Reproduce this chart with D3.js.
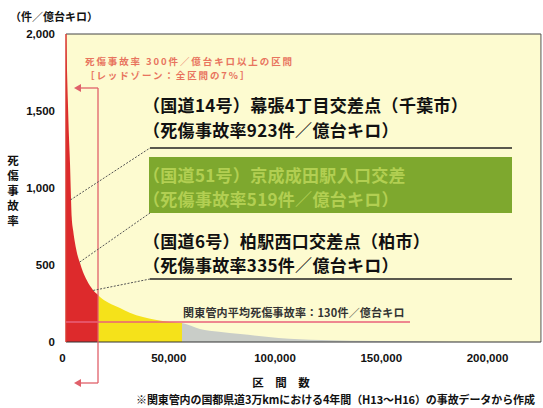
<!DOCTYPE html>
<html><head><meta charset="utf-8">
<script src="https://cdn.jsdelivr.net/npm/d3@7"></script>
<style>
html,body{margin:0;padding:0;background:#fff;}
svg text{font-family:"Noto Sans CJK JP","Noto Sans",sans-serif;font-weight:700;}
</style></head><body>
<svg id="chart" width="543" height="408"></svg>
<script>
// ---- data ----
const sections = [0, 400, 900, 1400, 1880, 2300, 2680, 3400, 4240, 5300, 6590, 8000, 9740, 11200, 12700, 15060, 16000, 20000, 25400, 30000, 36200, 42000, 48900, 54600, 63000, 72000, 82000, 100000, 120000, 148000, 180000, 215000];
const rates    = [2000, 1800, 1550, 1330, 1160, 960, 812, 720, 643, 570, 513, 455, 403, 367, 338, 305, 292, 255, 221, 190, 162, 145, 130, 123, 84, 66, 52, 26, 13, 6, 2, 0];
const yTicks = [0, 500, 1000, 1500, 2000];
const xTicks = [0, 50000, 100000, 150000, 200000];
const redZoneEnd = 15060;     // rate >= 300
const yellowEnd = 54600;      // rate >= ~130
const avgRate = 130;
const xMax = 223500;
const annotations = [
  {line1:"（国道14号）幕張4丁目交差点（千葉市）", line2:"（死傷事故率923件／億台キロ）", rate:923, at:2150},
  {line1:"（国道51号）京成成田駅入口交差", line2:"（死傷事故率519件／億台キロ）", rate:519, at:6450},
  {line1:"（国道6号）柏駅西口交差点（柏市）", line2:"（死傷事故率335件／億台キロ）", rate:335, at:12800}
];

const svg = d3.select("#chart");
const x = d3.scaleLinear().domain([0, 200000]).range([66, 491]);
const y = d3.scaleLinear().domain([0, 2000]).range([342, 34]);
const data = sections.map((s,i)=>({s, r:rates[i]}));

// plot background
svg.append("rect").attr("x", x(0)).attr("y", y(2000)).attr("width", x(xMax)-x(0)).attr("height", y(0)-y(2000))
  .attr("fill", "#fdfbd0");

const defs = svg.append("defs");
function clip(id, a, b){
  defs.append("clipPath").attr("id", id).append("rect")
    .attr("x", x(a)).attr("y", y(2000)).attr("width", x(b)-x(a)).attr("height", y(0)-y(2000));
}
clip("cRed", 0, redZoneEnd);
clip("cYel", redZoneEnd, yellowEnd);
clip("cGry", yellowEnd, xMax);

const area = d3.area().x(d=>x(d.s)).y0(y(0)).y1(d=>y(d.r)).curve(d3.curveMonotoneX);
svg.append("path").datum(data).attr("d", area).attr("fill", "#dd2a2c").attr("clip-path", "url(#cRed)");
svg.append("path").datum(data).attr("d", area).attr("fill", "#f5e21a").attr("clip-path", "url(#cYel)");
svg.append("path").datum(data).attr("d", area).attr("fill", "#c9cdc8").attr("clip-path", "url(#cGry)");

// borders
svg.append("line").attr("x1", x(0)).attr("x2", x(xMax)).attr("y1", y(2000)).attr("y2", y(2000)).attr("stroke", "#444").attr("stroke-width", 1);
svg.append("line").attr("x1", x(xMax)).attr("x2", x(xMax)).attr("y1", y(2000)).attr("y2", y(0)).attr("stroke", "#555").attr("stroke-width", 1);
svg.append("line").attr("x1", x(0)).attr("x2", x(xMax)).attr("y1", y(0)).attr("y2", y(0)).attr("stroke", "#333").attr("stroke-width", 1.2);
svg.append("line").attr("x1", x(0)).attr("x2", x(0)).attr("y1", y(2000)).attr("y2", y(0)).attr("stroke", "#d83a30").attr("stroke-width", 1.5);

// average line
svg.append("line").attr("x1", x(0)).attr("x2", 410).attr("y1", y(avgRate)).attr("y2", y(avgRate))
  .attr("stroke", "#e8607a").attr("stroke-width", 1.5);
svg.append("text").attr("x", 183).attr("y", y(avgRate)-5).attr("font-size", 11).attr("fill", "#333")
  .attr("letter-spacing", 0.2)
  .text("関東管内平均死傷事故率：130件／億台キロ");

// red zone marker
const rx = x(redZoneEnd);
svg.append("line").attr("x1", rx).attr("x2", rx).attr("y1", 88).attr("y2", 383).attr("stroke", "#e0606a").attr("stroke-width", 1.3);
svg.append("line").attr("x1", rx).attr("x2", 80).attr("y1", 88).attr("y2", 88).attr("stroke", "#e0606a").attr("stroke-width", 1.3);
svg.append("line").attr("x1", rx).attr("x2", 80).attr("y1", 383).attr("y2", 383).attr("stroke", "#e0606a").attr("stroke-width", 1.3);
svg.append("path").attr("d", "M74,88 L81,84 L81,92 Z").attr("fill", "#e0606a");
svg.append("path").attr("d", "M74,383 L81,379 L81,387 Z").attr("fill", "#e0606a");
svg.append("text").attr("x", 85).attr("y", 65).attr("font-size", 9.5).attr("fill", "#e8745e").attr("font-weight", 400)
  .attr("letter-spacing", 1.9)
  .text("死傷事故率 300件／億台キロ以上の区間");
svg.append("text").attr("x", 85).attr("y", 79).attr("font-size", 9.5).attr("fill", "#e8745e").attr("font-weight", 400)
  .attr("letter-spacing", 1.9)
  .text("［レッドゾーン：全区間の7%］");

// green box for annotation 2
svg.append("rect").attr("x", 149).attr("y", 157).attr("width", 363).attr("height", 56).attr("fill", "#7ea82e");

// annotations
const annY = [[112, 137, 148], [182, 206, 213], [248, 272, 279]];
annotations.forEach((a,i)=>{
  const [l1, l2, uy] = annY[i];
  const col = i===1 ? "#b2cf52" : "#111";
  svg.append("text").attr("x", 143).attr("y", l1).attr("font-size", 17).attr("letter-spacing", 0.3).attr("fill", col).text(a.line1);
  svg.append("text").attr("x", 143).attr("y", l2).attr("font-size", 17).attr("letter-spacing", 0.3).attr("fill", col).text(a.line2);
  svg.append("line").attr("x1", x(a.at)).attr("y1", y(a.rate)).attr("x2", 150).attr("y2", uy)
    .attr("stroke", "#555").attr("stroke-width", 1).attr("stroke-dasharray", "2,1.5");
  if (i !== 1) {
    svg.append("line").attr("x1", 150).attr("x2", 512).attr("y1", uy).attr("y2", uy)
      .attr("stroke", "#222").attr("stroke-width", 1.3);
  }
});

// axes
const yAxis = d3.axisLeft(y).tickValues(yTicks).tickSize(0).tickPadding(0).tickFormat(d3.format(","));
const gy = svg.append("g").attr("transform", "translate(55,0)").call(yAxis);
gy.select(".domain").remove();
gy.selectAll("text").attr("font-size", 11.5).attr("fill", "#111")
  .style("font-family", "'Liberation Sans', Arial, sans-serif").attr("font-weight", 700);

const xAxis = d3.axisBottom(x).tickValues(xTicks).tickSize(0).tickPadding(0).tickFormat(d3.format(","));
const gx = svg.append("g").attr("transform", "translate(-4,354)").call(xAxis);
gx.select(".domain").remove();
gx.selectAll("text").attr("font-size", 11.5).attr("fill", "#111")
  .style("font-family", "'Liberation Sans', Arial, sans-serif").attr("font-weight", 700);

// axis titles
svg.append("text").attr("x", 10).attr("y", 21).attr("font-size", 11).attr("fill", "#111").text("（件／億台キロ）");
const vt = "死傷事故率".split("");
vt.forEach((c,i)=>{
  svg.append("text").attr("x", 13).attr("y", 165 + i*15).attr("text-anchor", "middle").attr("font-size", 11.5).attr("fill", "#111").text(c);
});
svg.append("text").attr("x", 281).attr("y", 387).attr("text-anchor", "middle").attr("font-size", 11.5).attr("fill", "#111")
  .attr("xml:space", "preserve").text("区　間　数");
svg.append("text").attr("x", 136).attr("y", 404).attr("font-size", 11).attr("fill", "#111")
  .attr("letter-spacing", -0.1)
  .text("※関東管内の国都県道3万kmにおける4年間（H13～H16）の事故データから作成");
</script>
</body></html>
